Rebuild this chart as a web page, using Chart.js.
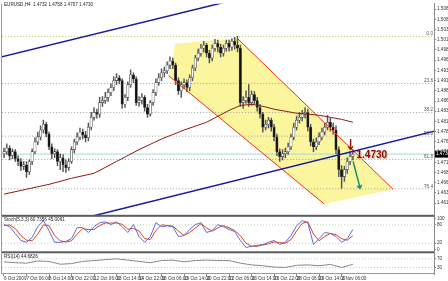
<!DOCTYPE html>
<html>
<head>
<meta charset="utf-8">
<script src="https://cdn.jsdelivr.net/npm/chart.js@4.4.1/dist/chart.umd.min.js"></script>
<style>
  html, body { margin: 0; padding: 0; background: #fff; }
  #wrap { width: 448px; height: 281px; }
</style>
</head>
<body>
<div id="wrap"><canvas id="chart" width="448" height="281"></canvas></div>
<script>
// EURUSD H4 bars
const opens = [1.4731,1.4736,1.4745,1.4726,1.4736,1.4719,1.4712,1.4700,1.4704,1.4687,
  1.4712,1.4736,1.4760,1.4772,1.4789,1.4803,1.4779,1.4748,1.4731,1.4736,
  1.4712,1.4721,1.4704,1.4697,1.4712,1.4741,1.4760,1.4772,1.4784,1.4777,
  1.4770,1.4796,1.4820,1.4832,1.4828,1.4856,1.4861,1.4869,1.4881,1.4893,
  1.4910,1.4917,1.4910,1.4852,1.4869,1.4900,1.4924,1.4914,1.4856,1.4861,
  1.4869,1.4844,1.4828,1.4856,1.4881,1.4905,1.4917,1.4929,1.4934,1.4948,
  1.4958,1.4948,1.4910,1.4885,1.4900,1.4905,1.4893,1.4917,1.4941,1.4965,
  1.4977,1.4989,1.4997,1.4977,1.4965,1.4989,1.5001,1.4992,1.4977,1.4989,
  1.5001,1.4992,1.5006,1.4997,1.4989,1.4856,1.4861,1.4869,1.4856,1.4876,
  1.4861,1.4844,1.4828,1.4796,1.4803,1.4813,1.4796,1.4772,1.4736,1.4724,
  1.4731,1.4736,1.4748,1.4772,1.4796,1.4813,1.4820,1.4828,1.4832,1.4796,
  1.4760,1.4748,1.4760,1.4772,1.4784,1.4796,1.4808,1.4796,1.4789,1.4741,
  1.4692,1.4675,1.4692,1.4712,1.4724];
const highs = [1.4745,1.4755,1.4750,1.4743,1.4741,1.4726,1.4719,1.4712,1.4712,1.4716,
  1.4743,1.4770,1.4784,1.4799,1.4813,1.4808,1.4784,1.4755,1.4743,1.4741,
  1.4731,1.4729,1.4716,1.4719,1.4748,1.4767,1.4782,1.4794,1.4791,1.4786,
  1.4806,1.4832,1.4844,1.4840,1.4869,1.4871,1.4881,1.4890,1.4902,1.4919,
  1.4927,1.4922,1.4914,1.4876,1.4907,1.4936,1.4929,1.4919,1.4871,1.4878,
  1.4873,1.4852,1.4861,1.4888,1.4914,1.4927,1.4939,1.4943,1.4956,1.4968,
  1.4965,1.4953,1.4917,1.4907,1.4914,1.4912,1.4924,1.4948,1.4972,1.4987,
  1.4999,1.5006,1.5001,1.4984,1.4997,1.5011,1.5009,1.4999,1.4997,1.5009,
  1.5009,1.5013,1.5016,1.5018,1.4997,1.4871,1.4885,1.4900,1.4885,1.4883,
  1.4869,1.4852,1.4832,1.4813,1.4820,1.4818,1.4803,1.4779,1.4743,1.4741,
  1.4745,1.4757,1.4779,1.4806,1.4823,1.4832,1.4837,1.4844,1.4840,1.4803,
  1.4767,1.4770,1.4782,1.4794,1.4806,1.4825,1.4818,1.4806,1.4799,1.4748,
  1.4702,1.4700,1.4721,1.4736,1.4741];
const lows = [1.4721,1.4729,1.4716,1.4719,1.4712,1.4702,1.4690,1.4692,1.4673,1.4680,
  1.4704,1.4731,1.4753,1.4765,1.4782,1.4772,1.4741,1.4719,1.4721,1.4702,
  1.4692,1.4687,1.4685,1.4690,1.4707,1.4733,1.4753,1.4765,1.4767,1.4760,
  1.4762,1.4789,1.4813,1.4818,1.4820,1.4847,1.4854,1.4859,1.4873,1.4885,
  1.4900,1.4902,1.4842,1.4844,1.4861,1.4893,1.4905,1.4849,1.4847,1.4852,
  1.4835,1.4820,1.4823,1.4849,1.4873,1.4898,1.4910,1.4919,1.4927,1.4939,
  1.4939,1.4900,1.4876,1.4869,1.4890,1.4883,1.4885,1.4910,1.4934,1.4958,
  1.4970,1.4980,1.4968,1.4953,1.4958,1.4982,1.4980,1.4968,1.4970,1.4982,
  1.4982,1.4984,1.4987,1.4980,1.4847,1.4842,1.4854,1.4847,1.4849,1.4852,
  1.4835,1.4818,1.4784,1.4789,1.4794,1.4786,1.4762,1.4726,1.4712,1.4716,
  1.4721,1.4729,1.4741,1.4765,1.4789,1.4806,1.4811,1.4818,1.4786,1.4750,
  1.4736,1.4741,1.4753,1.4765,1.4777,1.4789,1.4786,1.4779,1.4731,1.4675,
  1.4646,1.4663,1.4683,1.4704,1.4716];
const closes = [1.4736,1.4745,1.4726,1.4736,1.4719,1.4712,1.4700,1.4704,1.4687,1.4712,
  1.4736,1.4760,1.4772,1.4789,1.4803,1.4779,1.4748,1.4731,1.4736,1.4712,
  1.4721,1.4704,1.4697,1.4712,1.4741,1.4760,1.4772,1.4784,1.4777,1.4770,
  1.4796,1.4820,1.4832,1.4828,1.4856,1.4861,1.4869,1.4881,1.4893,1.4910,
  1.4917,1.4910,1.4852,1.4869,1.4900,1.4924,1.4914,1.4856,1.4861,1.4869,
  1.4844,1.4828,1.4856,1.4881,1.4905,1.4917,1.4929,1.4934,1.4948,1.4958,
  1.4948,1.4910,1.4885,1.4900,1.4905,1.4893,1.4917,1.4941,1.4965,1.4977,
  1.4989,1.4997,1.4977,1.4965,1.4989,1.5001,1.4992,1.4977,1.4989,1.5001,
  1.4992,1.5006,1.4997,1.4989,1.4856,1.4861,1.4869,1.4856,1.4876,1.4861,
  1.4844,1.4828,1.4796,1.4803,1.4813,1.4796,1.4772,1.4736,1.4724,1.4731,
  1.4736,1.4748,1.4772,1.4796,1.4813,1.4820,1.4828,1.4832,1.4796,1.4760,
  1.4748,1.4760,1.4772,1.4784,1.4796,1.4808,1.4796,1.4789,1.4741,1.4692,
  1.4675,1.4692,1.4712,1.4724,1.4730];

// moving average (dark red), sampled bars
const maBars = [0,8,16,24,32,40,48,56,64,72,80,84,88,92,96,100,104,108,112,116,120,124];
const maValues = [1.4632,1.4644,1.4656,1.4671,1.4683,1.4712,1.4741,1.4767,1.4789,1.4808,1.4837,
  1.4849,1.4852,1.4847,1.4840,1.4835,1.4830,1.4828,1.4825,1.4820,1.4815,1.4808];

// stochastic, every second bar
const stochStep = 2;
const stochMain = [81,74,52,29,23,39,74,94,61,23,23,26,35,71,71,55,74,87,90,81,
  90,74,55,81,42,23,42,87,74,77,74,42,45,65,81,87,55,61,81,74,
  65,58,29,6,10,13,16,23,29,16,23,45,77,94,87,16,35,55,52,42,23,35,65];
const stochSignal = [78,80,68,45,30,28,50,80,78,45,28,24,28,50,68,65,65,78,86,86,
  86,82,66,68,60,35,32,62,80,78,76,60,46,55,70,84,70,60,70,78,
  70,62,45,20,10,10,14,18,24,22,20,32,60,85,90,50,28,42,52,48,35,30,45];

// RSI(14), every fourth bar
const rsiStep = 4;
const rsiValues = [56,52,50,60,58,45,48,58,62,66,70,64,58,52,62,64,56,62,64,62,
  62,50,42,38,32,30,40,42,38,44,30,44.68];

// axis labels
const priceTicks = [1.5085,1.5060,1.5035,1.5010,1.4985,1.4960,1.4935,1.4910,1.4885,1.4860,
  1.4835,1.4810,1.4785,1.4760,1.4735,1.4710,1.4685,1.4660,1.4635,1.4610];
const dateStep = 8;
const dateTicks = ["6 Oct 2009","7 Oct 06:00","8 Oct 14:00","9 Oct 22:00","12 Oct 06:00",
  "13 Oct 14:00","14 Oct 22:00","16 Oct 06:00","19 Oct 14:00","20 Oct 22:00","22 Oct 06:00",
  "23 Oct 14:00","26 Oct 22:00","28 Oct 06:00","29 Oct 14:00","2 Nov 06:00"];
const stochTicks = [100, 80, 20, 0];
const rsiTicks = [70, 30];

// fibonacci retracement
const fibLabels = ["0.0","23.6","38.2","50.0","61.8","76.4"];
const fibPrices = [1.5018,1.4903,1.4832,1.4774,1.4717,1.4645];

// drawn objects: [bar, price] pairs
const blueUpper = [[-1, 1.4968], [153, 1.5227]];
const blueLower = [[-1, 1.4523], [153, 1.4786]];
const redUpper = [[83, 1.5013], [138.3, 1.4644]];
const redLower = [[58.5, 1.4922], [113.8, 1.4608]];
const channelShape = [[58.5, 1.4922], [61, 1.5001], [83, 1.5013], [138.3, 1.4644], [113.8, 1.4608]];
const lastPrice = 1.4730;
const priceNote = [125.3, 1.4726];
const downArrow = [[123.2, 1.4767], [123.2, 1.4741]];
const tealArrow = [[124.1, 1.4712], [126.6, 1.4646]];

const headerText = "EURUSD,H4  1.4732 1.4758 1.4707 1.4730";
const stochText = "Stoch(5,3,3) 60.7356 45.0061";
const rsiText = "RSI(14) 44.6826";

const xMin = -0.71, xMax = 152.84;
const tiny = '4.6px "Liberation Sans"';

const toXY = pts => pts.map(p => ({ x: p[0], y: p[1] }));
const bars = closes.map((c, i) => i);

function lineSet(pts, color, width, extra) {
  return Object.assign({
    type: 'line', data: toXY(pts), borderColor: color, borderWidth: width,
    pointRadius: 0, fill: false, tension: 0
  }, extra || {});
}

const datasets = [];
// candle bodies
datasets.push({
  type: 'bar', order: 3, grouped: false, barThickness: 2.4,
  data: bars.map(i => ({ x: i, y: [opens[i], closes[i]] })),
  backgroundColor: bars.map(i => closes[i] >= opens[i] ? '#ffffff' : '#111'),
  borderColor: '#444', borderWidth: 0.6, borderSkipped: false
});
// wicks
datasets.push({
  type: 'bar', order: 4, grouped: false, barThickness: 0.8,
  data: bars.map(i => ({ x: i, y: [lows[i], highs[i]] })),
  backgroundColor: '#555'
});
datasets.push(lineSet(maBars.map((b, k) => [b, maValues[k]]), '#8e1b12', 1, { order: 2 }));
datasets.push(lineSet(blueUpper, '#1b1ba0', 1.5, { order: 1 }));
datasets.push(lineSet(blueLower, '#1b1ba0', 1.5, { order: 1 }));
datasets.push(lineSet(redUpper, '#ff2a10', 1, { order: 2 }));
datasets.push(lineSet(redLower, '#ff2a10', 1, { order: 2 }));
datasets.push(lineSet(channelShape, 'rgba(0,0,0,0)', 0, { order: 9, fill: 'shape', backgroundColor: '#fbf59e' }));
fibPrices.forEach((p, k) => {
  datasets.push(lineSet([[xMin - 1, p], [xMax + 1, p]], k === 0 ? '#b8c45a' : '#a0a0a0', 1,
    { order: 8, borderDash: [1, 2] }));
});
datasets.push(lineSet([[xMin - 1, lastPrice], [xMax + 1, lastPrice]], '#a6dcd6', 1, { order: 7 }));
// stochastic levels and lines
[80, 20].forEach(v => {
  datasets.push(lineSet([[xMin, v], [xMax, v]], '#b7d8b0', 1, { yAxisID: 'yS', order: 8, borderDash: [1, 2] }));
});
datasets.push(lineSet(stochSignal.map((v, k) => [k * stochStep, v]), '#e0401e', 1, { yAxisID: 'yS', order: 2 }));
datasets.push(lineSet(stochMain.map((v, k) => [k * stochStep, v]), '#5b6cd8', 1, { yAxisID: 'yS', order: 1 }));
// RSI
rsiTicks.forEach(v => {
  datasets.push(lineSet([[xMin, v], [xMax, v]], '#b7d8b0', 1, { yAxisID: 'yR', order: 8, borderDash: [1, 2] }));
});
datasets.push(lineSet(rsiValues.map((v, k) => [k * rsiStep, v]), '#8b8496', 1, { yAxisID: 'yR', order: 1 }));

function arrow(ctx, x1, y1, x2, y2, color, head) {
  const ang = Math.atan2(y2 - y1, x2 - x1);
  ctx.strokeStyle = color;
  ctx.lineWidth = 1.5;
  ctx.beginPath();
  ctx.moveTo(x1, y1);
  ctx.lineTo(x2, y2);
  ctx.stroke();
  ctx.beginPath();
  ctx.moveTo(x2, y2);
  ctx.lineTo(x2 - head * Math.cos(ang - 0.6), y2 - head * Math.sin(ang - 0.6));
  ctx.moveTo(x2, y2);
  ctx.lineTo(x2 - head * Math.cos(ang + 0.6), y2 - head * Math.sin(ang + 0.6));
  ctx.stroke();
}

const overlay = {
  id: 'overlay',
  afterDatasetsDraw(chart) {
    const { ctx, chartArea: a } = chart;
    const { x, y, yS, yR } = chart.scales;
    ctx.save();
    // panel separators
    ctx.fillStyle = '#5c5c5c';
    ctx.fillRect(a.left, y.bottom - 1, a.right - a.left, 2);
    ctx.fillRect(a.left, yS.bottom - 1, a.right - a.left, 2);
    ctx.fillStyle = '#9a9a9a';
    ctx.fillRect(a.left, yR.bottom - 1, a.right - a.left, 1);
    ctx.fillRect(a.left - 1, a.top, 1, a.bottom - a.top);

    ctx.font = tiny;
    ctx.fillStyle = '#555';
    ctx.textAlign = 'right';
    ctx.textBaseline = 'bottom';
    fibPrices.forEach((p, k) => {
      ctx.fillText(fibLabels[k], a.right - 1, y.getPixelForValue(p));
    });

    ctx.textAlign = 'left';
    ctx.textBaseline = 'top';
    ctx.fillStyle = '#222';
    ctx.fillText(headerText, a.left + 2, 2);
    ctx.fillText(stochText, a.left + 2, yS.top + 2);
    ctx.fillText(rsiText, a.left + 2, yR.top + 2);

    // price note
    ctx.font = 'bold 10px "Liberation Sans"';
    ctx.textBaseline = 'middle';
    ctx.fillStyle = '#f6b090';
    ctx.fillText(lastPrice.toFixed(4), x.getPixelForValue(priceNote[0]) + 1, y.getPixelForValue(priceNote[1]) + 1);
    ctx.fillStyle = '#8a0c0c';
    ctx.fillText(lastPrice.toFixed(4), x.getPixelForValue(priceNote[0]), y.getPixelForValue(priceNote[1]));

    arrow(ctx, x.getPixelForValue(downArrow[0][0]), y.getPixelForValue(downArrow[0][1]),
      x.getPixelForValue(downArrow[1][0]), y.getPixelForValue(downArrow[1][1]), '#a0140c', 4);
    arrow(ctx, x.getPixelForValue(tealArrow[0][0]), y.getPixelForValue(tealArrow[0][1]),
      x.getPixelForValue(tealArrow[1][0]), y.getPixelForValue(tealArrow[1][1]), '#1f8a78', 4);

    // last price box on the axis
    const py = y.getPixelForValue(lastPrice);
    ctx.fillStyle = '#000';
    ctx.fillRect(a.right + 1, py - 3.5, 14, 7);
    ctx.fillStyle = '#fff';
    ctx.font = tiny;
    ctx.textAlign = 'left';
    ctx.fillText(lastPrice.toFixed(4), a.right + 2, py);
    ctx.restore();
  }
};

const axisTicks = { font: { size: 4.6, family: 'Liberation Sans' }, color: '#333', padding: 1, autoSkip: false };

new Chart(document.getElementById('chart'), {
  type: 'bar',
  data: { datasets },
  options: {
    responsive: false,
    animation: false,
    devicePixelRatio: 1,
    layout: { padding: { left: 2, top: 0, right: 0, bottom: 0 } },
    plugins: { legend: { display: false }, tooltip: { enabled: false } },
    scales: {
      x: {
        type: 'linear', min: xMin, max: xMax, offset: false,
        grid: { display: true, drawOnChartArea: false, tickLength: 2, color: '#888', offset: false },
        border: { display: false },
        afterBuildTicks: s => { s.ticks = dateTicks.map((t, k) => ({ value: k * dateStep })); },
        afterFit: s => { s.height = 7; },
        ticks: Object.assign({}, axisTicks, {
          maxRotation: 0, align: 'start', padding: 0,
          callback: (v) => dateTicks[Math.round(v / dateStep)]
        })
      },
      y: {
        type: 'linear', position: 'right', stack: 'panes', stackWeight: 215, weight: 1,
        min: 1.4579, max: 1.5098,
        grid: { display: true, drawOnChartArea: false, tickLength: 2, color: '#888' },
        border: { color: '#8a8a8a' },
        afterBuildTicks: s => { s.ticks = priceTicks.map(v => ({ value: v })); },
        afterFit: s => { s.width = 14; },
        ticks: Object.assign({}, axisTicks, { callback: v => Number(v).toFixed(4) })
      },
      yS: {
        type: 'linear', position: 'right', stack: 'panes', stackWeight: 37, weight: 2,
        min: -9.7, max: 109.7,
        grid: { display: true, drawOnChartArea: false, tickLength: 2, color: '#888' },
        border: { color: '#8a8a8a' },
        afterBuildTicks: s => { s.ticks = stochTicks.map(v => ({ value: v })); },
        afterFit: s => { s.width = 14; },
        ticks: Object.assign({}, axisTicks, { callback: v => String(v) })
      },
      yR: {
        type: 'linear', position: 'right', stack: 'panes', stackWeight: 22, weight: 3,
        min: 0, max: 100,
        grid: { display: true, drawOnChartArea: false, tickLength: 2, color: '#888' },
        border: { color: '#8a8a8a' },
        afterBuildTicks: s => { s.ticks = rsiTicks.map(v => ({ value: v })); },
        afterFit: s => { s.width = 14; },
        ticks: Object.assign({}, axisTicks, { callback: v => String(v) })
      }
    }
  },
  plugins: [overlay]
});
</script>
</body>
</html>
